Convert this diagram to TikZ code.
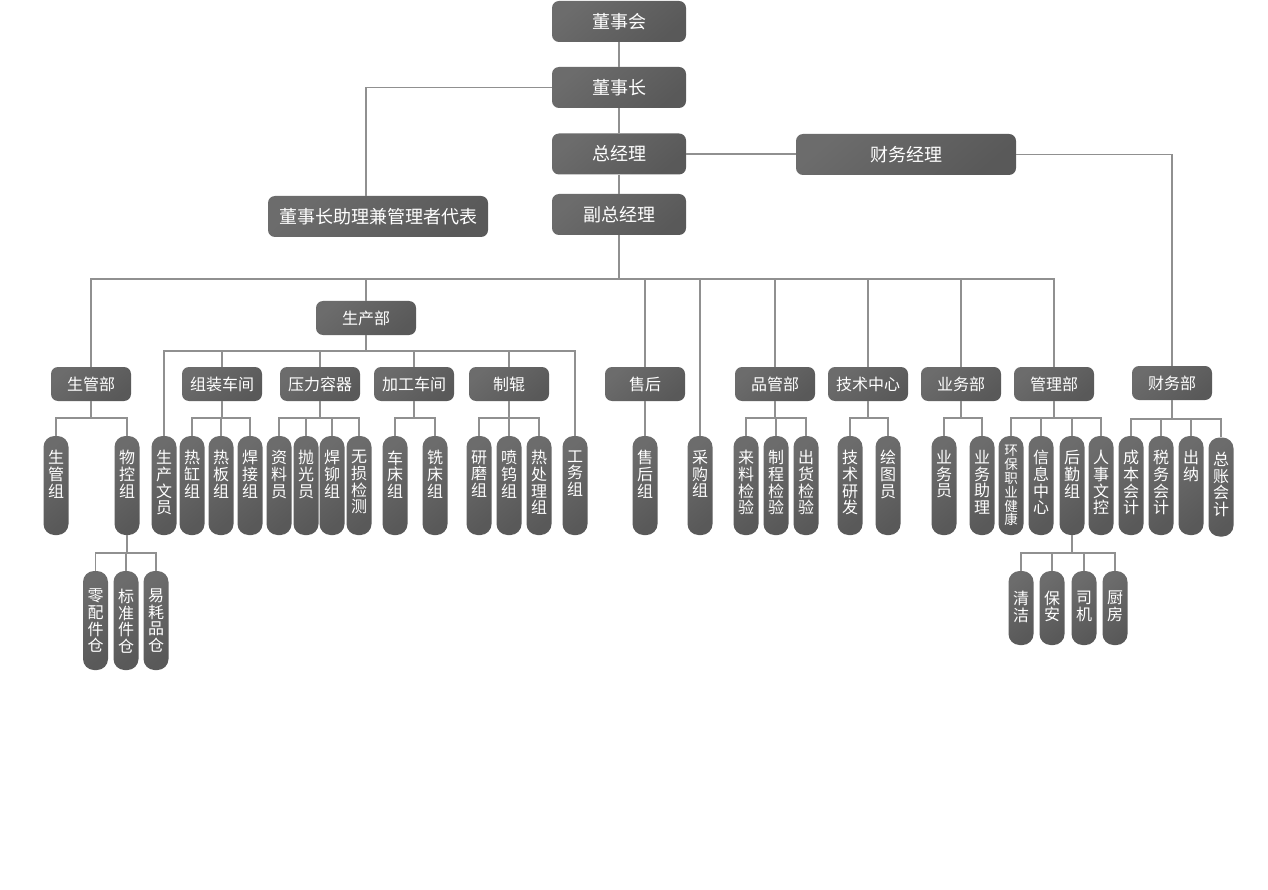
\documentclass[tikz,border=0pt]{standalone}
\usepackage{fontspec}
\setmainfont{Noto Sans CJK SC}
\definecolor{boxA}{HTML}{6C6C6C}
\definecolor{boxM}{HTML}{666666}
\definecolor{boxB}{HTML}{595959}
\definecolor{linec}{HTML}{909090}
\newcommand\vt[2]{\parbox[c][#1pt][t]{25pt}{\centering\fontsize{16}{16.6}\selectfont #2\par}}
\newcommand\vsm[2]{\parbox[c][#1pt][t]{25pt}{\centering\fontsize{13.5}{13.8}\selectfont #2\par}}
\tikzset{
  basebox/.style={rounded corners=7pt, top color=boxA, middle color=boxM, bottom color=boxB,
    shading angle=40, text=white, inner sep=0pt},
  topbox/.style={basebox, minimum width=134pt, minimum height=41pt, font=\fontsize{18}{20}\selectfont},
  widebox/.style={topbox, minimum width=220pt},
  midbox/.style={basebox, minimum width=80pt, minimum height=34pt, font=\fontsize{16}{18}\selectfont},
  vbox/.style={basebox, rounded corners=11pt, minimum width=25pt, minimum height=99pt},
  sbox/.style={basebox, rounded corners=11pt, minimum width=25pt, minimum height=74pt},
  conn/.style={draw=linec, line width=1.5pt}
}
\begin{document}
\begin{tikzpicture}[x=1pt,y=-1pt]
\path[fill=white,use as bounding box] (0,0) rectangle (1268,890);

% top level
\node[topbox] (dsh) at (619,21.5) {董事会};
\node[topbox] (dsz) at (619,87.5) {董事长};
\node[topbox] (zjl) at (619,154) {总经理};
\node[widebox] (cwjl) at (906,154.5) {财务经理};
\node[topbox] (fzjl) at (619,214.5) {副总经理};
\node[widebox] (zl) at (378,216.5) {董事长助理兼管理者代表};

% level 2
\node[midbox] (sgb) at (91,384) {生管部};
\node[midbox, minimum width=100pt] (scb) at (366,318) {生产部};
\node[midbox] (zzcj) at (222,384) {组装车间};
\node[midbox] (ylrq) at (320,384) {压力容器};
\node[midbox] (jgcj) at (414,384) {加工车间};
\node[midbox] (zg) at (509,384) {制辊};
\node[midbox] (shb) at (645,384) {售后};
\node[midbox] (pgb) at (775,384) {品管部};
\node[midbox] (jsb) at (868,384) {技术中心};
\node[midbox] (ywb) at (961,384) {业务部};
\node[midbox] (glb) at (1054,384) {管理部};
\node[midbox] (cwb) at (1172,383) {财务部};

% level 3
\node[vbox] (sgz) at (56,485.5) {\vt{70}{生\\管\\组}};
\node[vbox] (wkz) at (127,485.5) {\vt{70}{物\\控\\组}};
\node[vbox] (scwy) at (164,485.5) {\vt{70}{生\\产\\文\\员}};
\node[vbox] (rgz) at (192,485.5) {\vt{70}{热\\缸\\组}};
\node[vbox] (rbz) at (221,485.5) {\vt{70}{热\\板\\组}};
\node[vbox] (hjz) at (250,485.5) {\vt{70}{焊\\接\\组}};
\node[vbox] (zly) at (279,485.5) {\vt{70}{资\\料\\员}};
\node[vbox] (pgy) at (306,485.5) {\vt{70}{抛\\光\\员}};
\node[vbox] (hmz) at (332,485.5) {\vt{70}{焊\\铆\\组}};
\node[vbox] (wsjc) at (359,485.5) {\vt{70}{无\\损\\检\\测}};
\node[vbox] (ccz) at (395,485.5) {\vt{70}{车\\床\\组}};
\node[vbox] (xcz) at (435,485.5) {\vt{70}{铣\\床\\组}};
\node[vbox] (ymz) at (479,485.5) {\vt{70}{研\\磨\\组}};
\node[vbox] (pwz) at (509,485.5) {\vt{70}{喷\\钨\\组}};
\node[vbox] (rclz) at (539,485.5) {\vt{70}{热\\处\\理\\组}};
\node[vbox] (gwz) at (575,485.5) {\vt{70}{工\\务\\组}};
\node[vbox] (shz) at (645,485.5) {\vt{70}{售\\后\\组}};
\node[vbox] (cgz) at (700,485.5) {\vt{70}{采\\购\\组}};
\node[vbox] (lljy) at (746,485.5) {\vt{70}{来\\料\\检\\验}};
\node[vbox] (zcjy) at (776,485.5) {\vt{70}{制\\程\\检\\验}};
\node[vbox] (chjy) at (806,485.5) {\vt{70}{出\\货\\检\\验}};
\node[vbox] (jsyf) at (850,485.5) {\vt{70}{技\\术\\研\\发}};
\node[vbox] (hty) at (888,485.5) {\vt{70}{绘\\图\\员}};
\node[vbox] (ywy) at (944,485.5) {\vt{70}{业\\务\\员}};
\node[vbox] (ywzl) at (982,485.5) {\vt{70}{业\\务\\助\\理}};
\node[vbox] (hbzy) at (1011,485.5) {\vsm{80}{环\\保\\职\\业\\健\\康}};
\node[vbox] (xxzx) at (1041,485.5) {\vt{70}{信\\息\\中\\心}};
\node[vbox] (hqz) at (1072,485.5) {\vt{70}{后\\勤\\组}};
\node[vbox] (rswk) at (1101,485.5) {\vt{70}{人\\事\\文\\控}};
\node[vbox] (cbkj) at (1131,485.5) {\vt{70}{成\\本\\会\\计}};
\node[vbox] (swkj) at (1161,485.5) {\vt{70}{税\\务\\会\\计}};
\node[vbox] (cn) at (1191,485.5) {\vt{70}{出\\纳}};
\node[vbox] (zzkj) at (1221,487) {\vt{70}{总\\账\\会\\计}};

% level 4
\node[vbox] (lpjc) at (95.5,620.5) {\vt{63}{零\\配\\件\\仓}};
\node[vbox] (bzjc) at (126,620.5) {\vt{63}{标\\准\\件\\仓}};
\node[vbox] (yhpc) at (156,620.5) {\vt{63}{易\\耗\\品\\仓}};
\node[sbox] (qj) at (1021,608) {\vt{34}{清\\洁}};
\node[sbox] (ba) at (1052,608) {\vt{34}{保\\安}};
\node[sbox] (sj) at (1084,608) {\vt{34}{司\\机}};
\node[sbox] (cf) at (1115,608) {\vt{34}{厨\\房}};

% connectors: top
\draw[conn] (dsh) -- (dsz);
\draw[conn] (dsz) -- (zjl);
\draw[conn] (zjl) -- (fzjl);
\draw[conn] (zjl.east) -- (zjl.east -| cwjl.west);
\draw[conn] (dsz.west) -| ([xshift=-12pt]zl.north);
\draw[conn] (cwjl.east) -| (cwb.north);

% main bus
\coordinate (bus) at (619,279);
\draw[conn] (fzjl.south) -- (bus);
\draw[conn] (sgb.north) -- (sgb.north |- bus) -- (glb.north |- bus) -- (glb.north);
\foreach \n in {scb,shb,cgz,pgb,jsb,ywb}
  \draw[conn] (\n.north) -- (\n.north |- bus);

% production bus
\coordinate (scbus) at (366,351);
\draw[conn] (scb.south) -- (scbus);
\draw[conn] (scwy.north) -- (scwy.north |- scbus) -- (gwz.north |- scbus) -- (gwz.north);
\foreach \n in {zzcj,ylrq,jgcj,zg}
  \draw[conn] (\n.north) -- (\n.north |- scbus);

% sub groups level 2 -> 3
\draw[conn] (sgb.south) -- ++(0,17);
\draw[conn] (sgz.north) -- ++(0,-18) -| (wkz.north);

\draw[conn] (zzcj.south) -- ++(0,17);
\draw[conn] (rgz.north) -- ++(0,-18) -| (hjz.north);
\draw[conn] (rbz.north) -- ++(0,-18);

\draw[conn] (ylrq.south) -- ++(0,17);
\draw[conn] (zly.north) -- ++(0,-18) -| (wsjc.north);
\foreach \n in {pgy,hmz} \draw[conn] (\n.north) -- ++(0,-18);

\draw[conn] (jgcj.south) -- ++(0,17);
\draw[conn] (ccz.north) -- ++(0,-18) -| (xcz.north);

\draw[conn] (zg.south) -- ++(0,17);
\draw[conn] (ymz.north) -- ++(0,-18) -| (rclz.north);
\draw[conn] (pwz.north) -- ++(0,-18);

\draw[conn] (shb) -- (shz);

\draw[conn] (pgb.south) -- ++(0,17);
\draw[conn] (lljy.north) -- ++(0,-18) -| (chjy.north);
\draw[conn] (zcjy.north) -- ++(0,-18);

\draw[conn] (jsb.south) -- ++(0,17);
\draw[conn] (jsyf.north) -- ++(0,-18) -| (hty.north);

\draw[conn] (ywb.south) -- ++(0,17);
\draw[conn] (ywy.north) -- ++(0,-18) -| (ywzl.north);

\draw[conn] (glb.south) -- ++(0,17);
\draw[conn] (hbzy.north) -- ++(0,-18) -| (rswk.north);
\foreach \n in {xxzx,hqz} \draw[conn] (\n.north) -- ++(0,-18);

\draw[conn] (cwb.south) -- ++(0,19);
\draw[conn] (cbkj.north) -- ++(0,-17) -| (zzkj.north);
\foreach \n in {swkj,cn} \draw[conn] (\n.north) -- ++(0,-17);

% level 3 -> 4
\draw[conn] (wkz.south) -- ++(0,18);
\draw[conn] (lpjc.north) -- ++(0,-18) -| (yhpc.north);
\draw[conn] (bzjc.north) -- ++(0,-18);

\draw[conn] (hqz.south) -- ++(0,18);
\draw[conn] (qj.north) -- ++(0,-18) -| (cf.north);
\foreach \n in {ba,sj} \draw[conn] (\n.north) -- ++(0,-18);
\end{tikzpicture}
\end{document}
